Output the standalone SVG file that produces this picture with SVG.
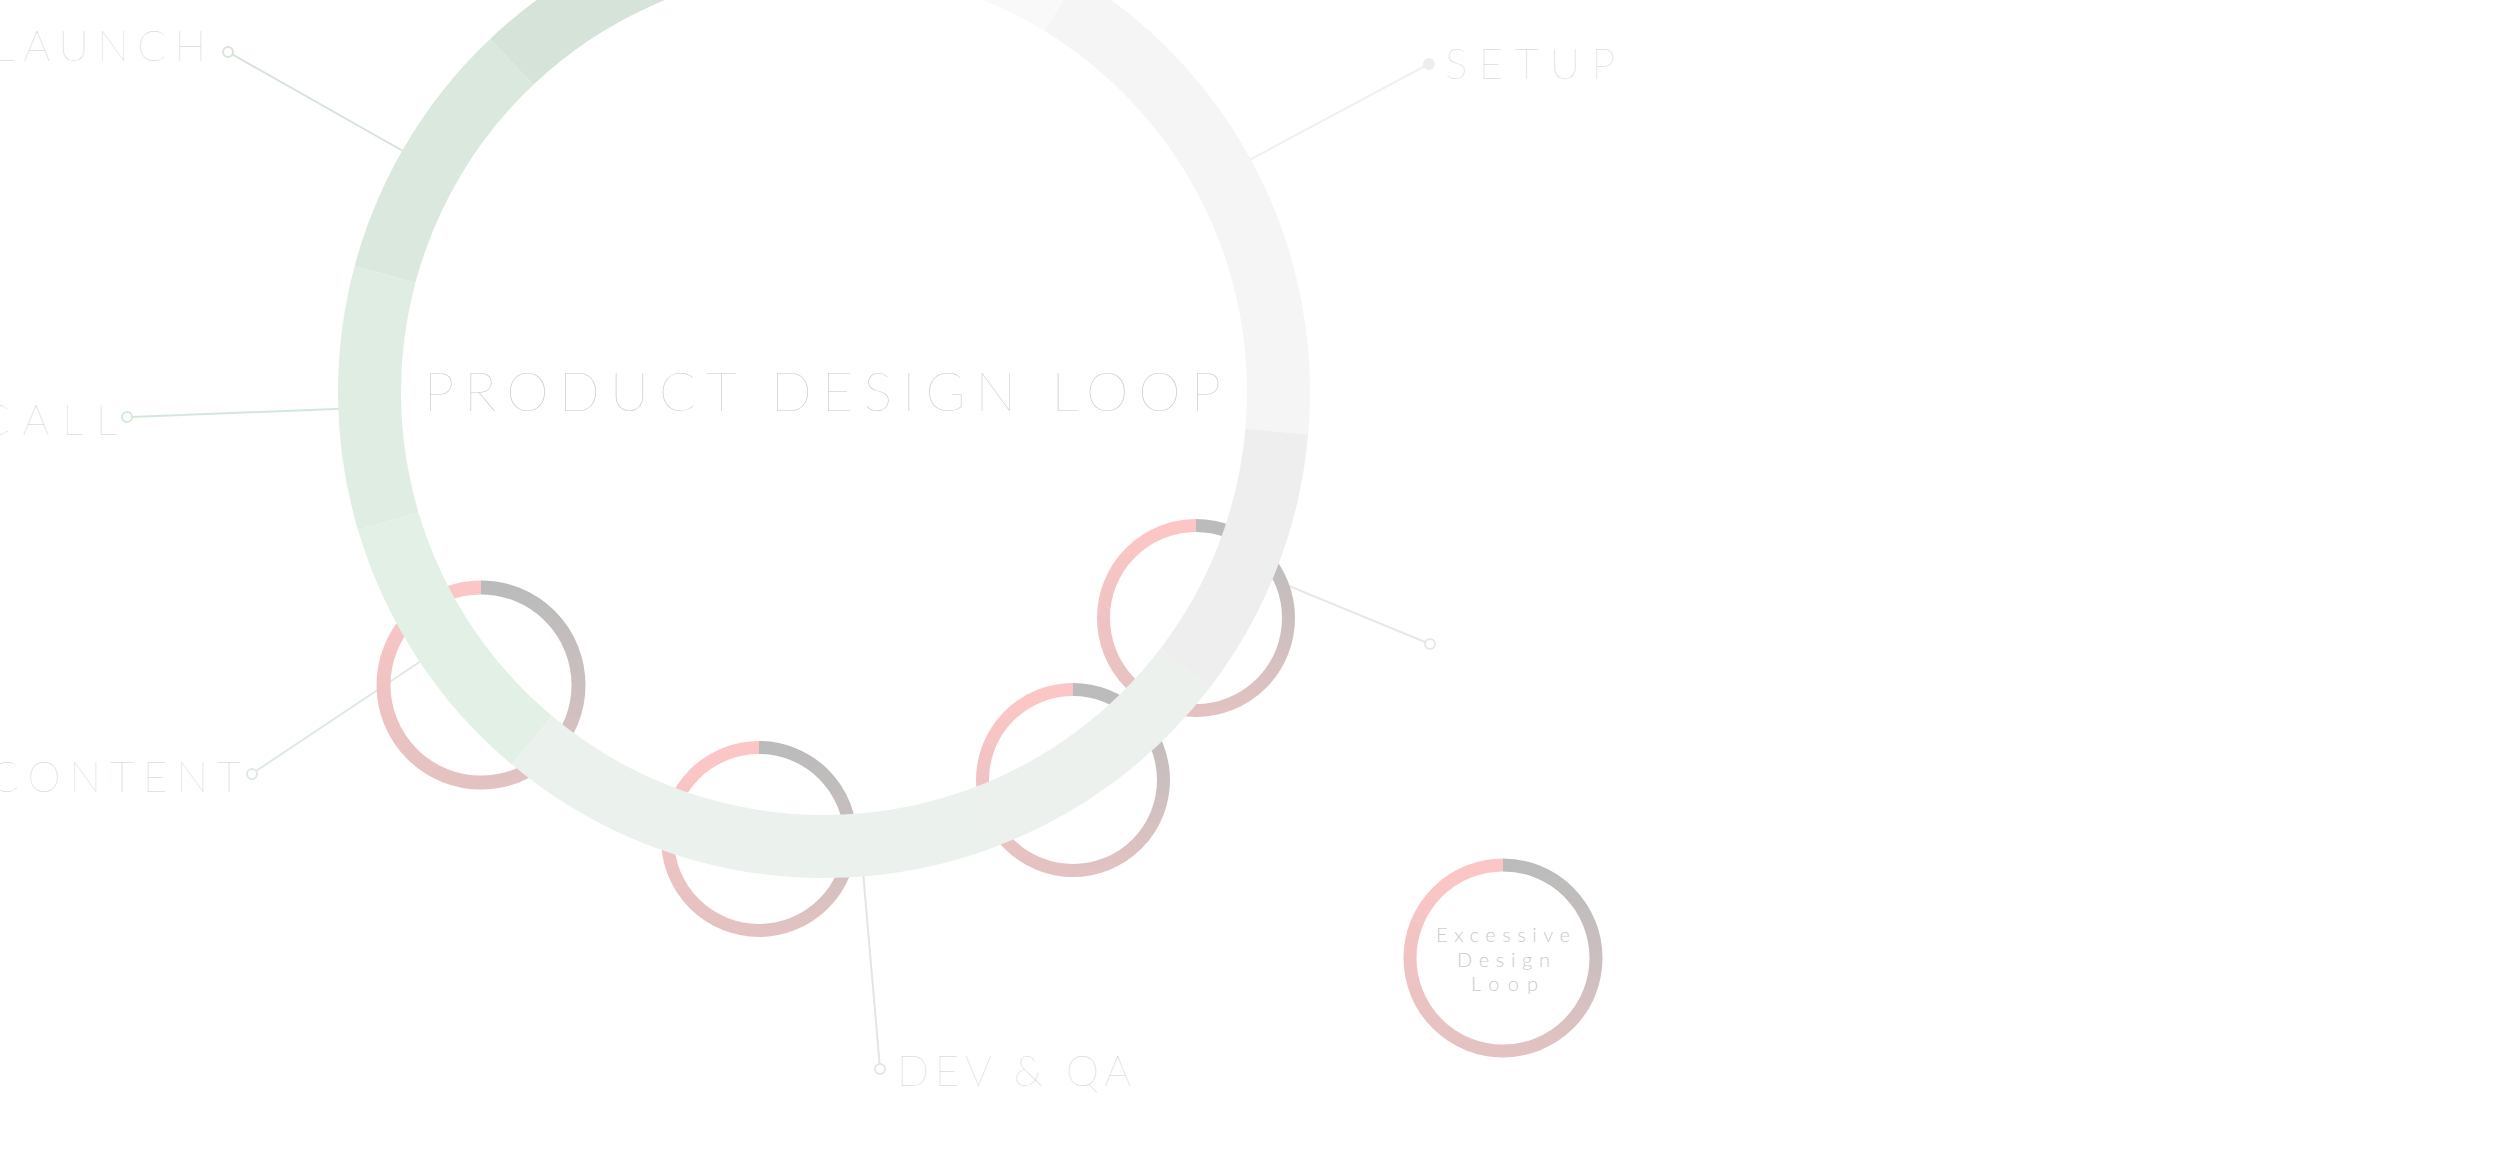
<svg xmlns="http://www.w3.org/2000/svg" width="2500" height="1154" viewBox="0 0 2500 1154">
  <style>
    .lbl { font-family: Lato, Roboto, "Liberation Sans", sans-serif; font-weight: 200; font-size: 42px; fill: #d0d0d0; }
    .title { font-family: Lato, Roboto, "Liberation Sans", sans-serif; font-weight: 200; font-size: 54px; fill: #c8c8c8; }
    .small { font-family: Lato, Roboto, "Liberation Sans", sans-serif; font-weight: 300; font-size: 20px; fill: #cbcbcb; }
    .seg { fill: none; stroke-width: 63; stroke-linecap: butt; }
    .sr { fill: none; stroke-width: 13; }
    .dot { fill: #ffffff; stroke-width: 2; }
    .ln { fill: none; stroke-width: 2; }
  </style>
  <defs>
    <linearGradient id="gR" x1="0" y1="0" x2="0" y2="1">
      <stop offset="0" stop-color="#bbbbbb"/>
      <stop offset="0.5" stop-color="#cbbfbf"/>
      <stop offset="1" stop-color="#e2c2c2"/>
    </linearGradient>
    <linearGradient id="gL" x1="0" y1="0" x2="0" y2="1">
      <stop offset="0" stop-color="#fdc6c6"/>
      <stop offset="0.5" stop-color="#f0c3c3"/>
      <stop offset="1" stop-color="#e4c2c2"/>
    </linearGradient>
  </defs>
  <rect x="0" y="0" width="2500" height="1154" fill="#ffffff"/>

  <g id="connectors">
    <line class="ln" x1="232.5" y1="54.5" x2="440" y2="172" stroke="#d6e4da"/>
    <circle class="dot" cx="228" cy="52" r="5" stroke="#d6e4da"/>
    <line class="ln" x1="1425" y1="66" x2="1240" y2="165" stroke="#f0f0f0"/>
    <circle class="dot" cx="1429" cy="64" r="5" stroke="#eeeeee" style="fill:#eeeeee"/>
    <line class="ln" x1="132" y1="417" x2="360" y2="408" stroke="#d4e8da"/>
    <circle class="dot" cx="127" cy="417" r="5" stroke="#d4e8da"/>
    <line class="ln" x1="256" y1="771" x2="430" y2="655" stroke="#dfeae3"/>
    <circle class="dot" cx="252" cy="774" r="5" stroke="#dfeae3"/>
    <line class="ln" x1="1425" y1="642" x2="1265" y2="576" stroke="#e8e8e8"/>
    <circle class="dot" cx="1430" cy="644" r="5" stroke="#e8e8e8"/>
    <line class="ln" x1="879.6" y1="1064" x2="862" y2="860" stroke="#e2e6e4"/>
    <circle class="dot" cx="880" cy="1069" r="5" stroke="#e2e6e4"/>
  </g>

  <g id="ring-a">
    <path class="sr" d="M 481 587.5 A 97.5 97.5 0 0 1 481 782.5" stroke="url(#gR)" style="stroke-width:14"/>
    <path class="sr" d="M 481 782.5 A 97.5 97.5 0 0 1 481 587.5" stroke="url(#gL)" style="stroke-width:14"/>
  </g>
  <g id="ring-b">
    <path class="sr" d="M 759 747.5 A 91.5 91.5 0 0 1 759 930.5" stroke="url(#gR)"/>
    <path class="sr" d="M 759 930.5 A 91.5 91.5 0 0 1 759 747.5" stroke="url(#gL)"/>
  </g>
  <g id="ring-c">
    <path class="sr" d="M 1073 689.5 A 90.5 90.5 0 0 1 1073 870.5" stroke="url(#gR)"/>
    <path class="sr" d="M 1073 870.5 A 90.5 90.5 0 0 1 1073 689.5" stroke="url(#gL)"/>
  </g>
  <g id="ring-d">
    <path class="sr" d="M 1196 525.5 A 92.5 92.5 0 0 1 1196 710.5" stroke="url(#gR)"/>
    <path class="sr" d="M 1196 710.5 A 92.5 92.5 0 0 1 1196 525.5" stroke="url(#gL)"/>
  </g>
  <g id="excessive-design-loop">
    <path class="sr" d="M 1503 865 A 93 93 0 0 1 1503 1051" stroke="url(#gR)"/>
    <path class="sr" d="M 1503 1051 A 93 93 0 0 1 1503 865" stroke="url(#gL)"/>
    <text class="small" x="1436" y="942" textLength="134" lengthAdjust="spacing">Excessive</text>
    <text class="small" x="1457" y="967" textLength="93" lengthAdjust="spacing">Design</text>
    <text class="small" x="1471" y="991" textLength="67" lengthAdjust="spacing">Loop</text>
  </g>

  <g id="product-design-loop">
    <path class="seg" stroke="#f5f5f5" d="M 1276.8 431.6 A 454.5 454.5 0 0 0 1060.8 4.0"/>
    <path class="seg" stroke="#f9f9f9" d="M 1060.8 4.0 A 454.5 454.5 0 0 0 784.4 -60.8"/>
    <path class="seg" stroke="#d5e3d8" d="M 784.4 -60.8 A 454.5 454.5 0 0 0 511.7 61.8"/>
    <path class="seg" stroke="#dbe8de" d="M 511.7 61.8 A 454.5 454.5 0 0 0 385.0 274.4"/>
    <path class="seg" stroke="#dfede3" d="M 385.0 274.4 A 454.5 454.5 0 0 0 388.2 521.1"/>
    <path class="seg" stroke="#e3f0e5" d="M 388.2 521.1 A 454.5 454.5 0 0 0 531.8 740.2"/>
    <path class="seg" stroke="#ebf1ec" d="M 531.8 740.2 A 454.5 454.5 0 0 0 979.4 819.1"/>
    <path class="seg" stroke="#ecf1ed" d="M 979.4 819.1 A 454.5 454.5 0 0 0 1185.1 668.1"/>
    <path class="seg" stroke="#eeeeee" d="M 1185.1 668.1 A 454.5 454.5 0 0 0 1276.8 431.6"/>
    <text class="title" x="424" y="411" textLength="797" lengthAdjust="spacing">PRODUCT DESIGN LOOP</text>
  </g>

  <g id="label-launch"><text class="lbl" x="-6" y="61" textLength="212" lengthAdjust="spacing">LAUNCH</text></g>
  <g id="label-setup"><text class="lbl" x="1445" y="79" textLength="170" lengthAdjust="spacing">SETUP</text></g>
  <g id="label-call"><text class="lbl" x="-19" y="435" textLength="136" lengthAdjust="spacing">CALL</text></g>
  <g id="label-content"><text class="lbl" x="-10" y="792" textLength="251" lengthAdjust="spacing">CONTENT</text></g>
  <g id="label-dev-qa"><text class="lbl" x="897" y="1086" textLength="234" lengthAdjust="spacing">DEV &amp; QA</text></g>
</svg>
